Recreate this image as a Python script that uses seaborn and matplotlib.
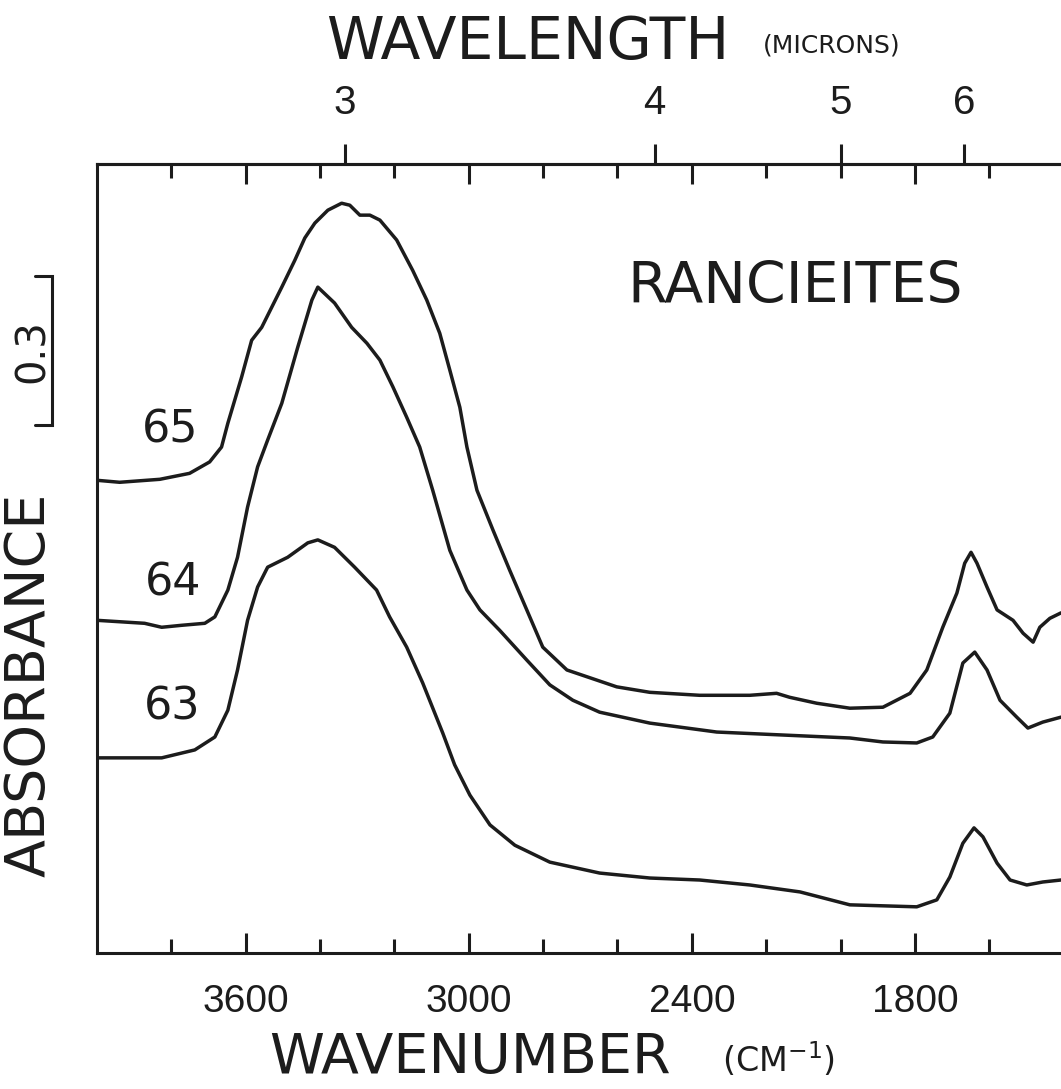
import numpy as np
import pandas as pd
import matplotlib
matplotlib.use("Agg")
import matplotlib.pyplot as plt
import matplotlib.transforms as mtransforms
from matplotlib.ticker import FixedLocator, NullLocator
import seaborn as sns

# Infrared absorbance spectra of rancieite samples (wavenumber in cm-1, absorbance)
wn_65 = [4000, 3939, 3831, 3751, 3697, 3665, 3648, 3611, 3584, 3557, 3503, 3468,
         3441, 3414, 3379, 3342, 3320, 3293, 3266, 3239, 3194, 3151, 3113, 3078,
         3051, 3024, 3005, 2978, 2935, 2890, 2844, 2801, 2736, 2602, 2513, 2379,
         2244, 2172, 2137, 2064, 1975, 1886, 1813, 1768, 1725, 1687, 1666, 1649,
         1633, 1606, 1579, 1536, 1509, 1482, 1464, 1437, 1407]
ab_65 = [0.952, 0.948, 0.954, 0.966, 0.989, 1.019, 1.067, 1.160, 1.234, 1.260, 1.341, 1.395,
         1.440, 1.470, 1.496, 1.510, 1.506, 1.486, 1.486, 1.476, 1.436, 1.375, 1.315, 1.248,
         1.174, 1.099, 1.019, 0.932, 0.852, 0.771, 0.691, 0.616, 0.570, 0.536, 0.525, 0.519,
         0.519, 0.523, 0.515, 0.503, 0.493, 0.495, 0.523, 0.570, 0.656, 0.725, 0.785, 0.807,
         0.785, 0.737, 0.691, 0.670, 0.644, 0.626, 0.656, 0.674, 0.685]

wn_64 = [4000, 3872, 3826, 3772, 3710, 3683, 3648, 3622, 3595, 3568, 3541, 3503,
         3460, 3422, 3406, 3361, 3315, 3274, 3239, 3204, 3167, 3132, 3097, 3051,
         3005, 2970, 2917, 2844, 2782, 2720, 2648, 2513, 2333, 2155, 1975, 1886,
         1795, 1752, 1706, 1671, 1639, 1606, 1571, 1526, 1496, 1456, 1407]
ab_64 = [0.670, 0.664, 0.656, 0.660, 0.664, 0.677, 0.731, 0.797, 0.898, 0.979, 1.033, 1.107,
         1.220, 1.315, 1.341, 1.309, 1.260, 1.228, 1.194, 1.140, 1.079, 1.019, 0.932, 0.811,
         0.731, 0.691, 0.650, 0.590, 0.540, 0.509, 0.485, 0.463, 0.445, 0.439, 0.433, 0.425,
         0.423, 0.435, 0.483, 0.584, 0.606, 0.570, 0.509, 0.475, 0.453, 0.465, 0.475]

wn_63 = [4000, 3826, 3737, 3683, 3648, 3622, 3595, 3568, 3541, 3487, 3433, 3406,
         3361, 3307, 3248, 3213, 3167, 3124, 3070, 3038, 2997, 2943, 2876, 2782,
         2648, 2513, 2379, 2244, 2109, 1975, 1795, 1741, 1706, 1671, 1641, 1617,
         1579, 1544, 1499, 1456, 1407]
ab_63 = [0.393, 0.393, 0.409, 0.435, 0.489, 0.570, 0.670, 0.737, 0.777, 0.797, 0.826, 0.832,
         0.817, 0.777, 0.731, 0.677, 0.616, 0.544, 0.443, 0.379, 0.318, 0.258, 0.217, 0.183,
         0.161, 0.151, 0.147, 0.137, 0.123, 0.097, 0.093, 0.107, 0.153, 0.221, 0.252, 0.234,
         0.181, 0.147, 0.137, 0.143, 0.147]

sample_labels = ["65", "64", "63"]
label_pos = [(3802, 1.053), (3796, 0.745), (3799, 0.495)]

wn_major = [3600, 3000, 2400, 1800]
wn_minor = list(range(3800, 1500, -200))
micron_ticks = [3, 4, 5, 6]

sns.set_style("white")
plt.rcParams["font.family"] = ["DejaVu Sans"]

INK = "#1c1c1c"
DIGITS = ["Liberation Sans Narrow", "Liberation Sans", "DejaVu Sans"]

fig = plt.figure(figsize=(10.61, 10.89), dpi=100)
ax = fig.add_axes([97 / 1061, 136 / 1089, 964 / 1061, 789 / 1089])

frames = []
for name, wn, ab in (("65", wn_65, ab_65), ("64", wn_64, ab_64), ("63", wn_63, ab_63)):
    frames.append(pd.DataFrame({"wavenumber": wn, "absorbance": ab, "sample": name}))
spectra = pd.concat(frames, ignore_index=True)

for name in sample_labels:
    sub = spectra[spectra["sample"] == name]
    sns.lineplot(data=sub, x="wavenumber", y="absorbance", ax=ax, color=INK,
                 linewidth=2.5, sort=False, estimator=None, legend=False,
                 solid_joinstyle="round", solid_capstyle="round")

ax.set_xlim(4000, 1407)
ax.set_ylim(0, 1.589)
ax.set_xlabel("")
ax.set_ylabel("")
ax.set_yticks([])

for side in ("left", "bottom", "top"):
    ax.spines[side].set_visible(True)
    ax.spines[side].set_linewidth(2.2)
    ax.spines[side].set_color(INK)
ax.spines["right"].set_visible(False)

ax.xaxis.set_major_locator(FixedLocator(wn_major))
ax.xaxis.set_minor_locator(FixedLocator(wn_minor))
ax.set_xticklabels([str(v) for v in wn_major])
ax.tick_params(axis="x", which="both", direction="in", top=True, bottom=True,
               color=INK, width=2.2)
ax.tick_params(axis="x", which="major", length=14.4, pad=22, labelsize=28,
               labelcolor=INK)
ax.tick_params(axis="x", which="minor", length=10)
for lbl in ax.get_xticklabels():
    lbl.set_fontfamily(DIGITS)


def wn_to_um(x):
    x = np.asarray(x, dtype=float)
    return np.divide(1e4, x, out=np.full_like(x, np.inf), where=x != 0)


sec = ax.secondary_xaxis("top", functions=(wn_to_um, wn_to_um))
sec.set_xticks(micron_ticks)
sec.set_xticklabels([str(v) for v in micron_ticks])
sec.xaxis.set_minor_locator(NullLocator())
sec.tick_params(axis="x", direction="out", length=14.4, width=2.2, color=INK,
                pad=16, labelsize=29, labelcolor=INK)
sec.spines["top"].set_linewidth(2.2)
sec.spines["top"].set_color(INK)
for lbl in sec.get_xticklabels():
    lbl.set_fontfamily(DIGITS)

# sample numbers and title inside the frame
for text, (x, y) in zip(sample_labels, label_pos):
    ax.text(x, y, text, ha="center", va="center", fontsize=32, color=INK)
ax.text(2123, 1.341, "RANCIEITES", ha="center", va="center", fontsize=41, color=INK)

# vertical scale bar for 0.3 absorbance units
bar = mtransforms.blended_transform_factory(ax.transAxes, ax.transData)
bx, fx = -45 / 964, -62 / 964
y0, y1 = 1.063, 1.363
ax.plot([fx, bx, bx, fx], [y0, y0, y1, y1], transform=bar, color=INK,
        linewidth=2.2, clip_on=False, solid_joinstyle="miter")
ax.text(-64 / 964, (y0 + y1) / 2, "0.3", transform=bar, rotation=90,
        ha="center", va="center", fontsize=29, color=INK)

fig.text(30 / 1061, 1 - 685 / 1089, "ABSORBANCE", rotation=90, ha="center",
         va="center", fontsize=40, color=INK)

fig.text(528 / 1061, 1 - 42 / 1089, "WAVELENGTH", ha="center", va="center",
         fontsize=42, color=INK)
fig.text(832 / 1061, 1 - 45 / 1089, "(MICRONS)", ha="center", va="center",
         fontsize=18, color=INK)

fig.text(470 / 1061, 1 - 1058 / 1089, "WAVENUMBER", ha="center", va="center",
         fontsize=40, color=INK)
fig.text(778 / 1061, 1 - 1060 / 1089, "(CM$^{-1}$)", ha="center", va="center",
         fontsize=24, color=INK)

fig.savefig("out.png", dpi=100, facecolor="white")
